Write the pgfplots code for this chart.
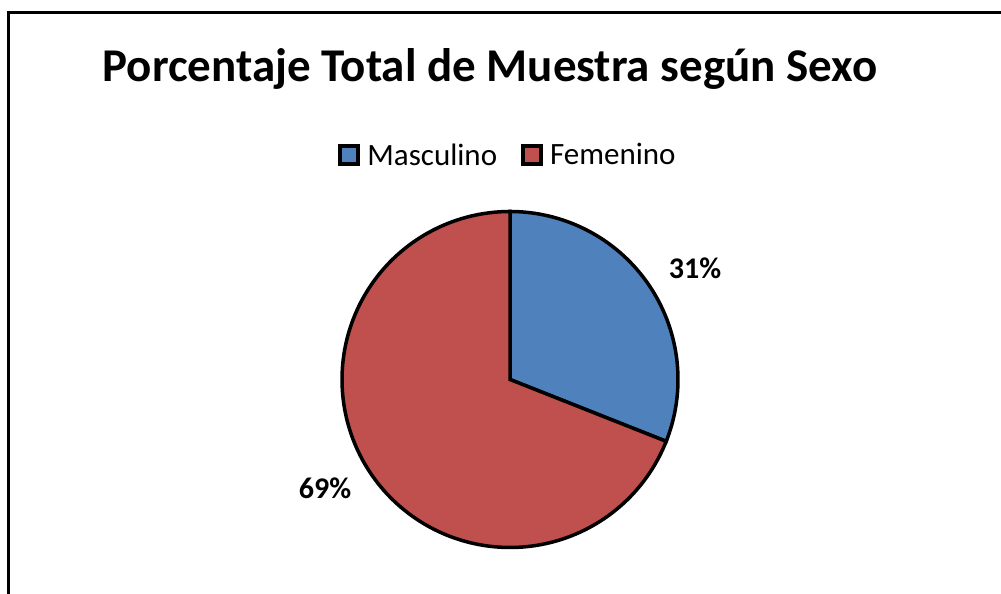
\documentclass[border=0pt]{standalone}
\usepackage{pgfplots}
\pgfplotsset{compat=1.18}
\usepackage{fontspec}
\setmainfont{Carlito}
\definecolor{mblue}{HTML}{4F81BD}
\definecolor{fred}{HTML}{C0504D}
\begin{document}
\begin{tikzpicture}
\pgfmathsetmacro\vM{31}
\pgfmathsetmacro\vF{69}
\pgfmathsetmacro\aM{90-3.6*\vM}
\pgfmathsetmacro\aF{90+3.6*\vF}
\begin{axis}[width=1001pt,height=594pt,scale only axis,hide axis,
  xmin=0,xmax=1001,ymin=0,ymax=594,clip=false,
  legend style={at={(axis cs:508,439)},anchor=center,draw=none,fill=none,
    legend columns=2,font=\fontsize{31}{36}\selectfont,
    /tikz/every even column/.append style={column sep=22pt},
    /tikz/every odd column/.append style={column sep=5pt}},
  legend image code/.code={\draw[#1,line width=4pt] (0pt,-9pt) rectangle (18pt,9pt);}]
\addplot[fill=mblue,draw=black,line width=3.5pt,domain=\aM:90,samples=80,variable=\t]
  ({510+168*cos(\t)},{214.5+168*sin(\t)}) -- (510,214.5) -- cycle;
\addlegendentry{Masculino}
\addplot[fill=fred,draw=black,line width=3.5pt,domain=90:\aF,samples=160,variable=\t]
  ({510+168*cos(\t)},{214.5+168*sin(\t)}) -- (510,214.5) -- cycle;
\addlegendentry{Femenino}
\addplot[black,line width=3pt,forget plot] coordinates {(8.5,-10) (8.5,581) (1010,581)};
\node[anchor=base,font=\bfseries\fontsize{30}{36}\selectfont] at (axis cs:695,315) {31\%};
\node[anchor=base,font=\bfseries\fontsize{30}{36}\selectfont] at (axis cs:325,95) {69\%};
\node[anchor=base,font=\bfseries\fontsize{47}{54}\selectfont] at (axis cs:490,512) {Porcentaje Total de Muestra según Sexo};
\end{axis}
\pgfresetboundingbox
\path (current axis.south west) rectangle (current axis.north east);
\end{tikzpicture}
\end{document}
